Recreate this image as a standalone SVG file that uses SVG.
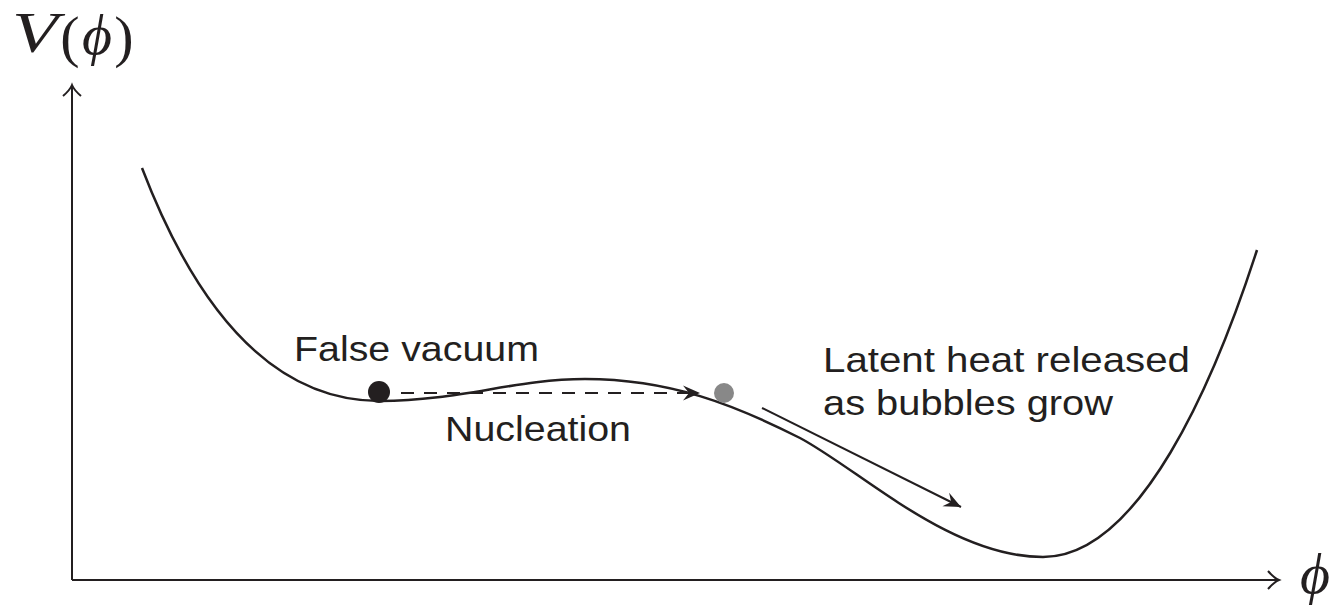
<svg xmlns="http://www.w3.org/2000/svg" width="1331" height="611" viewBox="0 0 1331 611">
<style>
.ax{fill:none;stroke:#231f20;stroke-width:2}
.cv{fill:none;stroke:#231f20;stroke-width:2.5}
.lbl{font-family:"Liberation Sans",Arial,sans-serif;font-size:35px;fill:#231f20}
.math{font-family:"Liberation Serif","DejaVu Serif",serif;font-size:58px;fill:#231f20;text-anchor:middle}
.it{font-style:italic}
</style>
<defs>
<marker id="stealth" markerUnits="userSpaceOnUse" markerWidth="20" markerHeight="20" refX="0" refY="0" viewBox="-18 -10 20 20" orient="auto">
<path d="M0,0 L-17,-7.5 L-11,0 L-17,7.5 Z" fill="#231f20"/>
</marker>
</defs>
<g id="axes">
<path class="ax" d="M72,580 V86"/>
<path class="ax" d="M63,96 Q70,90 72,85 Q74,90 81,96"/>
<path class="ax" d="M72,580 H1278"/>
<path class="ax" d="M1268,571 Q1274,578 1279,580 Q1274,582 1268,589"/>
</g>
<g id="potential">
<path class="cv" d="M142,168 C188,288 260,401 380,401 C460,401 515,379 585,379 C670,379 735,405 800,438 C860,470 950,557 1043,557 C1140,557 1215,380 1257,250"/>
</g>
<g id="false-vacuum">
<circle cx="379" cy="392" r="11" fill="#231f20"/>
</g>
<g id="true-vacuum-state">
<circle cx="724" cy="393" r="10" fill="#888888"/>
</g>
<g id="connectors">
<path d="M401,393 H700" fill="none" stroke="#231f20" stroke-width="2" stroke-dasharray="13 10" marker-end="url(#stealth)"/>
<path d="M762,408 L961,507" fill="none" stroke="#231f20" stroke-width="2" marker-end="url(#stealth)"/>
</g>
<g id="labels">
<text class="lbl" x="294" y="361" textLength="245" lengthAdjust="spacingAndGlyphs">False vacuum</text>
<text class="lbl" x="445" y="441" textLength="186" lengthAdjust="spacingAndGlyphs">Nucleation</text>
<text class="lbl" x="823" y="372" textLength="367" lengthAdjust="spacingAndGlyphs">Latent heat released</text>
<text class="lbl" x="823" y="415" textLength="290" lengthAdjust="spacingAndGlyphs">as bubbles grow</text>
<g id="y-label">
<text class="math it" x="12" y="52" font-size="60" textLength="46" lengthAdjust="spacingAndGlyphs" style="text-anchor:start">V</text>
<text class="math" x="70" y="56" font-size="68">(</text>
<text class="math it" x="97" y="54" font-size="60">ϕ</text>
<text class="math" x="124" y="56" font-size="68">)</text>
</g>
<text class="math it" x="1315" y="593">ϕ</text>
</g>
</svg>
